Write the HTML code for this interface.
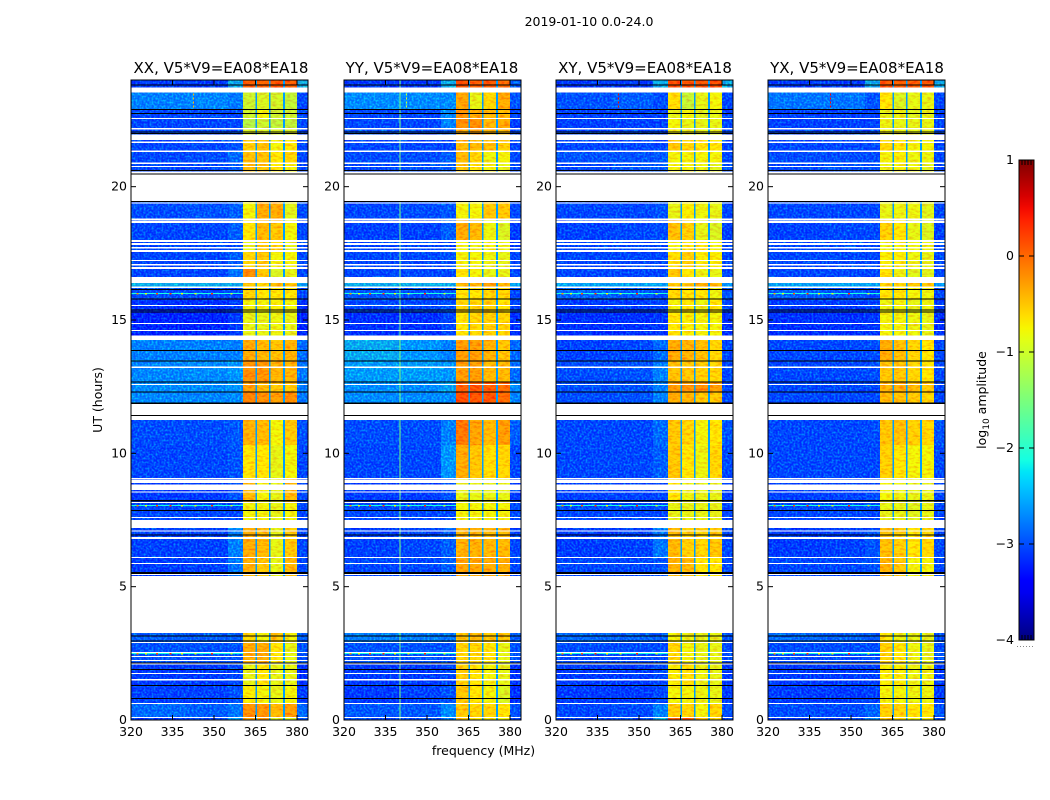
<!DOCTYPE html>
<html lang="en">
<head>
<meta charset="utf-8">
<title>2019-01-10 0.0-24.0</title>
<style>
  html, body { margin: 0; padding: 0; background: #fff; }
  svg { display: block; }
  text { font-family: "DejaVu Sans", "Liberation Sans", sans-serif; font-size: 12.5px; fill: #000; }
  .ttl { font-size: 15px; }
</style>
</head>
<body>
<svg id="chart" xmlns="http://www.w3.org/2000/svg" width="1050" height="800" viewBox="0 0 1050 800">
  <defs>
    <filter id="speckle" filterUnits="userSpaceOnUse" x="0" y="0" width="1050" height="800" color-interpolation-filters="sRGB">
      <feTurbulence type="fractalNoise" baseFrequency="0.5" numOctaves="1" seed="3" result="n"/>
      <feColorMatrix in="n" type="matrix" values="0 0 0 0 0  2.2 0 0 0 -0.85  0 0 0 0 1  0 0 0 0 0.45" result="c"/>
      <feComposite in="c" in2="SourceAlpha" operator="in"/>
    </filter>
    <filter id="hot-speckle" filterUnits="userSpaceOnUse" x="0" y="0" width="1050" height="800" color-interpolation-filters="sRGB">
      <feTurbulence type="fractalNoise" baseFrequency="0.22 0.45" numOctaves="2" seed="7" result="n"/>
      <feColorMatrix in="n" type="matrix" values="0 0 0 0 1  2.4 0 0 0 -0.4  0 0 0 0 0  0 0 0 0 0.25" result="c"/>
      <feComposite in="c" in2="SourceAlpha" operator="in"/>
    </filter>
    <linearGradient id="jet-gradient" x1="0" y1="1" x2="0" y2="0"></linearGradient>
  </defs>
  <rect x="0" y="0" width="1050" height="800" fill="#fff"/>
  <text x="589" y="26" text-anchor="middle">2019-01-10 0.0-24.0</text>
  <text x="483.5" y="755" text-anchor="middle">frequency (MHz)</text>
  <text transform="translate(102,400) rotate(-90)" text-anchor="middle">UT (hours)</text>
  <text transform="translate(986,400) rotate(-90)" text-anchor="middle">log<tspan dy="3" font-size="9">10</tspan><tspan dy="-3"> amplitude</tspan></text>
</svg>
<script>
// ---- chart data (log10 amplitude) ----
const panelTitles = ["XX, V5*V9=EA08*EA18", "YY, V5*V9=EA08*EA18", "XY, V5*V9=EA08*EA18", "YX, V5*V9=EA08*EA18"];
const freqTicks = [320, 335, 350, 365, 380];
const utTicks = [0, 5, 10, 15, 20];
const cbarTicks = [1, 0, -1, -2, -3, -4];
const cbarTickLabels = ["1", "0", "\u22121", "\u22122", "\u22123", "\u22124"];
const freqEdges = [320, 340, 355, 360.5, 365, 370, 375, 380, 384];
const gapFreqs = [365.2, 370.2, 375.3];
const gapLevel = -2.6;
const rfiFreq = 340;
const rfiLevels = [null, -1.5, null, null];
const rowLo = [0, .11, .64, 1.28, 2.1, 2.93, 5.4, 6.11, 7.5, 8.14, 9.08, 10.31, 11.87, 12.3, 12.68, 13.5, 14.41, 15.3, 15.79, 16.25, 16.62, 16.91, 17.55, 18, 18.79, 20.48, 20.89, 21.34, 21.96, 22.16, 22.58, 22.89, 23.71];
const rowHi = [.11, .64, 1.28, 2.1, 2.93, 3.26, 6.11, 7.2, 8.14, 9.08, 10.31, 11.25, 12.3, 12.68, 13.5, 14.25, 15.3, 15.79, 16.25, 16.38, 16.91, 17.55, 18, 18.79, 19.42, 20.89, 21.34, 21.75, 22.16, 22.58, 22.89, 23.54, 24];
const levelsXX = [
 [-3.2,-3,-2.3,-.2,-.2,-1,-1,-3],[-2.7,-2.8,-2.6,-.1,-.15,-.4,-.2,-2.7],[-3.05,-3.05,-2.9,-.75,-.8,-.9,-.8,-3.1],[-3.1,-3.1,-3,-.9,-.7,-.9,-.9,-3.2],
 [-2.9,-2.9,-2.9,-.3,-.3,-.7,-.9,-2.9],[-2.8,-2.8,-2.8,-.6,-.8,-.5,-.8,-2.8],[-3.1,-3.05,-2.6,-.35,-.5,-.9,-.4,-3],[-3.05,-3.05,-2.5,-.3,-.4,-.9,-.5,-3],
 [-3,-3,-3,-.8,-.8,-.9,-.8,-3],[-3.1,-3.1,-2.9,-.4,-.8,-.9,-.4,-3],[-3,-3,-2.9,-.7,-.7,-.9,-.8,-3],[-2.95,-2.95,-2.85,-.35,-.4,-.8,-.5,-2.9],
 [-2.45,-2.45,-2.4,0,-.1,-.2,-.1,-2.6],[-2.4,-2.4,-2.3,-.2,-.4,-.5,-.5,-2.5],[-2.45,-2.4,-2.3,-.1,-.15,-.35,-.35,-2.6],[-2.5,-2.5,-2.5,-.3,-.4,-.45,-.35,-2.7],
 [-3.3,-3.3,-3.1,-.9,-.9,-.85,-.9,-3.3],[-3.2,-3.2,-3.1,-.8,-.8,-.75,-.8,-3.2],[-2.95,-3,-3,-.6,-.7,-.7,-.7,-3],[-2.1,-2.1,-2.1,-.5,-.6,-.4,-.5,-2.2],
 [-3,-3,-2.6,-.1,-.5,-1,-.9,-3],[-3,-3,-2.8,-.6,-.5,-.8,-.8,-3],[-3,-3,-3,-.9,-.5,-.6,-.9,-3],[-3,-3,-2.8,-.7,-.4,-.5,-.8,-3],
 [-2.95,-2.9,-2.8,-.8,-.3,-.3,-.95,-2.95],[-3,-3,-2.8,-.4,-.5,-.7,-.8,-3],[-3,-2.95,-2.7,-.45,-.45,-.7,-.6,-3],[-3,-3,-2.9,-.55,-.45,-.8,-.7,-3],
 [-3,-3,-3,-1,-1,-1,-1,-3],[-3,-3,-3,-1.3,-1.1,-1.2,-1.2,-3],[-3,-3,-3,-1.1,-.8,-1.1,-1.1,-3],[-2.5,-2.45,-2.55,-1.1,-1,-1.05,-1.2,-3],[-3.1,-3.1,-2.1,.25,.2,.3,.25,-2]
];
const levelsYY = [
 [-3,-3,-2.5,-.5,-.7,-.8,-.8,-3],[-2.85,-2.85,-2.4,-.5,-.6,-.6,-.7,-2.9],[-3.1,-3.05,-2.9,-.5,-.7,-.8,-1,-3.2],[-3.1,-3.1,-3,-.55,-.7,-.8,-.9,-3.2],
 [-2.9,-2.9,-2.9,-.6,-.6,-.7,-.9,-2.9],[-2.5,-2.5,-2.6,-.5,-.4,-.5,-.5,-2.8],[-3,-3,-2.8,-.25,-.25,-.3,-.3,-3],[-3.05,-3,-2.8,-.35,-.35,-.4,-.4,-3],
 [-3,-3,-3,-.8,-.8,-.8,-.8,-3],[-3.1,-3.1,-2.9,-.9,-.9,-.9,-.9,-3.1],[-3,-3,-2.3,-.3,-.5,-.65,-.6,-3],[-2.95,-2.95,-2.5,.05,-.25,-.4,-.2,-2.8],
 [-2.4,-2.4,-2.4,.35,.3,.3,.15,-2.5],[-2.4,-2.4,-2.2,.25,.3,.25,.15,-2.4],[-2.25,-2.25,-2.3,-.2,-.2,-.4,-.4,-2.7],[-2.15,-2.3,-2.5,-.2,-.2,-.35,-.5,-2.7],
 [-3.2,-3.2,-3,-.7,-.6,-.55,-.6,-3.2],[-3,-3,-2.9,-.6,-.6,-.55,-.7,-3],[-2.85,-2.95,-2.9,-.7,-.7,-.6,-.6,-3],[-2.1,-2.1,-2.1,-.4,-.4,-.2,-.4,-2.2],
 [-3,-3,-3,-.7,-.8,-.9,-.9,-3],[-3,-3,-2.9,-.8,-.8,-.85,-.9,-3],[-3,-3,-3,-.8,-.85,-.8,-.85,-3.1],[-3.05,-3.05,-2.8,-.3,-.4,-.85,-1,-3.1],
 [-3,-2.95,-2.85,-.8,-.8,-.5,-.5,-3],[-3,-2.9,-2.8,-.5,-.7,-.8,-.9,-3],[-2.95,-2.95,-2.8,-.4,-.6,-.85,-.8,-3],[-3,-3,-3,-.4,-.4,-.45,-.55,-3],
 [-2.9,-3,-2.8,-.3,-.2,-.4,-.4,-3],[-3,-3,-2.5,-.1,-.1,-.4,-.3,-3.1],[-3,-3,-2.4,-.1,-.3,-.4,-.4,-3],[-2.4,-2.4,-2.4,-.25,-.9,-.6,-.3,-2.9],[-3.1,-3.1,-2.1,.35,.25,.3,.15,-2.8]
];
const levelsXY = [
 [-3.1,-3,-2.1,.3,.2,-.4,-.6,-3],[-3,-2.95,-2.5,-.55,-.6,-.8,-.6,-2.95],[-3.1,-3.1,-3,-.8,-.8,-.85,-.9,-3.1],[-3.1,-3.1,-3,-.75,-.65,-.85,-.9,-3.1],
 [-2.95,-2.95,-2.95,-.6,-.8,-.9,-.9,-2.95],[-2.7,-2.75,-2.8,-.8,-.85,-.9,-.9,-2.9],[-3,-3,-2.9,-.35,-.4,-.7,-.7,-3],[-3.1,-3.05,-2.6,-.4,-.55,-.6,-.5,-3],
 [-3,-3,-3,-.9,-.9,-.9,-.9,-3],[-3.05,-3.05,-3,-.7,-.85,-.9,-.9,-3.05],[-3,-3,-2.8,-.5,-.7,-.85,-.6,-3],[-3,-3,-2.7,-.5,-.6,-.8,-.7,-2.9],
 [-2.95,-2.9,-2.5,-.3,-.35,-.5,-.5,-3],[-2.95,-2.9,-2.5,-.2,-.15,-.1,-.2,-3],[-2.95,-2.9,-2.5,-.45,-.5,-.55,-.6,-3],[-3.05,-3,-2.7,-.3,-.35,-.45,-.6,-3],
 [-3.2,-3.2,-3.15,-.7,-.75,-.8,-.8,-3.2],[-3.1,-3.1,-3.05,-.8,-.7,-.85,-.7,-3],[-2.75,-2.85,-2.95,-.6,-.7,-.7,-.85,-2.9],[-2.2,-2.2,-2.2,-.5,-.5,-.3,-.4,-2.3],
 [-3,-3,-3,-.5,-.7,-.85,-.9,-3],[-3,-3,-3,-.65,-.55,-.75,-.75,-3],[-3,-3,-3,-.8,-.7,-.7,-.8,-3],[-3.05,-3,-2.95,-.45,-.55,-.9,-1,-3.05],
 [-3,-3,-2.9,-.9,-.75,-.85,-.9,-3],[-3,-2.85,-2.8,-.8,-.8,-.85,-.95,-2.95],[-2.9,-2.9,-2.85,-.8,-.8,-.8,-.8,-3],[-3,-3,-3,-.5,-.6,-.7,-.7,-3],
 [-3,-3,-3,-.8,-.85,-.9,-.9,-3],[-3.05,-3.05,-3.05,-.8,-.9,-.9,-.9,-3],[-3.05,-3.05,-3.05,-.9,-.8,-.95,-.9,-3.05],[-2.9,-2.8,-2.95,-.65,-1.15,-.9,-.8,-3],[-3.1,-3.1,-2.1,.35,.3,.3,.35,-2.1]
];
const levelsYX = [
 [-3.1,-3.05,-2.6,-.5,-.6,-.8,-.8,-3],[-2.95,-2.95,-2.75,-.55,-.6,-.7,-.7,-2.9],[-3.1,-3.1,-3.05,-.8,-.8,-.85,-.85,-3.1],[-3.1,-3.1,-3.05,-.75,-.75,-.85,-.85,-3.1],
 [-2.95,-2.95,-2.95,-.55,-.7,-.85,-.9,-2.95],[-2.7,-2.75,-2.85,-.7,-.85,-.9,-.9,-2.9],[-3,-3,-2.9,-.35,-.5,-.8,-.8,-3],[-3.1,-3.05,-2.9,-.45,-.55,-.7,-.6,-3],
 [-3,-3,-3,-.9,-.9,-.95,-.9,-3],[-3.05,-3.05,-3,-.8,-.85,-.9,-.9,-3],[-3,-3,-3,-.55,-.7,-.8,-.8,-3],[-3,-3,-2.95,-.5,-.45,-.55,-.6,-2.9],
 [-3,-3,-3,-.4,-.45,-.5,-.6,-3],[-3,-3,-3,-.35,-.3,-.4,-.5,-3],[-3,-3,-2.95,-.5,-.5,-.6,-.7,-3],[-3,-3,-2.95,-.3,-.45,-.6,-.7,-3],
 [-3.2,-3.2,-3.15,-.8,-.8,-.85,-.9,-3.2],[-3.1,-3.1,-3.05,-.85,-.8,-.9,-.85,-3.1],[-2.8,-2.9,-3,-.7,-.7,-.8,-.85,-3],[-2.2,-2.2,-2.2,-.6,-.6,-.5,-.5,-2.3],
 [-3,-3,-3,-.7,-.85,-.95,-.95,-3],[-3,-3,-3,-.75,-.75,-.85,-.9,-3],[-3,-3,-3,-.85,-.8,-.85,-.85,-3],[-3.05,-3,-3,-.55,-.7,-.9,-1,-3.05],
 [-3,-3,-3,-.9,-.85,-.85,-.95,-3],[-3,-2.9,-2.9,-.85,-.8,-.85,-.95,-3],[-2.95,-2.95,-2.95,-.8,-.75,-.85,-.85,-3],[-3,-3,-3,-.6,-.7,-.8,-.8,-3],
 [-3,-3,-3,-.85,-.85,-.9,-.9,-3],[-3.05,-3.05,-3.05,-.85,-.9,-.9,-.9,-3],[-3.05,-3.05,-3.05,-.9,-.85,-.95,-.9,-3.05],[-2.6,-2.6,-2.9,-.7,-1,-.9,-.9,-3],[-3.1,-3.1,-2.1,.3,.25,.25,.3,-2.1]
];
const flagLo = [.08,.6,1.49,1.72,2.09,2.21,2.36,2.51,2.89,5.44,5.85,6.08,6.79,7.09,7.58,8.14,8.53,8.63,8.89,9.02,12.56,13.2,14.59,14.85,15.53,16.2,16.91,17.05,17.21,17.55,17.69,17.81,17.93,18.64,18.75,19.36,20.49,20.75,20.85,21.3,21.64,22.14,22.54];
const flagHi = [.11,.64,1.54,1.76,2.16,2.25,2.4,2.55,2.93,5.48,5.89,6.11,6.86,7.11,7.61,8.18,8.57,8.83,9,9.08,12.6,13.25,14.63,14.89,15.56,16.26,16.99,17.1,17.25,17.63,17.74,17.88,18,18.73,18.81,19.41,20.57,20.77,20.91,21.35,21.69,22.2,22.58];
const blackUT = [.8,1.3,1.9,2.14,2.97,3.15,5.53,5.5,6.93,7.86,8.21,8.24,11.41,11.89,11.86,12.3,12.68,13.47,13.86,15.3,15.375,15.78,16.14,19.45,20.48,20.6,21.99,22.05,22.74,22.89,23.81];
const spikeUT = [16.0, 8.05, 2.5];
const spikeFreq = [322, 325, 329, 334, 338, 343, 349, 356];
const spikeLevel = [-.2, -.9, .1, .3, -.8, -.9, .3, -1];
const lineLevel = -2.1;
const dashFreq = 342.4;
const dashUT = [23.0, 23.15, 23.3, 23.45];
const dashLevels = [-.4, -1, .5, .5];

// ---- layout ----
const panelLevels = [levelsXX, levelsYY, levelsXY, levelsYX];
const panelLeft = [131, 344, 556, 768];
const titleShift = [1.5, -.5, .5, .5];
const panelW = 177, plotTop = 80, plotBottom = 720;
const pxPerMHz = 2.767;
const svg = document.getElementById('chart');
const NS = 'http://www.w3.org/2000/svg';

function xScale(panel, f) { return panelLeft[panel] + (f - 320) * pxPerMHz; }
function yScale(ut) { return plotBottom - (plotBottom - plotTop) * ut / 24; }
function lerp(t, xs, ys) {
  for (let i = 1; i < xs.length; i++) {
    if (t <= xs[i]) return ys[i - 1] + (ys[i] - ys[i - 1]) * (t - xs[i - 1]) / (xs[i] - xs[i - 1]);
  }
  return ys[ys.length - 1];
}
function jet(t) {
  t = Math.max(0, Math.min(1, t));
  const r = lerp(t, [0, .35, .66, .89, 1], [0, 0, 1, 1, .5]);
  const g = lerp(t, [0, .125, .375, .64, .91, 1], [0, 0, 1, 1, 0, 0]);
  const b = lerp(t, [0, .11, .34, .65, 1], [.5, 1, 1, 0, 0]);
  return 'rgb(' + Math.round(r * 255) + ',' + Math.round(g * 255) + ',' + Math.round(b * 255) + ')';
}
function levelColor(v) { return jet((v + 4) / 5); }
function make(tag, parent) { const el = document.createElementNS(NS, tag); parent.appendChild(el); return el; }
function box(el, x, y, w, h, fill) {
  el.setAttribute('x', x); el.setAttribute('y', y); el.setAttribute('width', w); el.setAttribute('height', h);
  el.setAttribute('fill', fill); el.setAttribute('shape-rendering', 'crispEdges');
}
function line(el, x1, y1, x2, y2) {
  el.setAttribute('x1', x1); el.setAttribute('y1', y1); el.setAttribute('x2', x2); el.setAttribute('y2', y2);
  el.setAttribute('stroke', '#000'); el.setAttribute('stroke-width', 1);
}

panelTitles.forEach(function (title, p) {
  const g = make('g', svg);
  
  
  const cells = make('g', g);
  
  
  const noise = make('g', g);
  noise.setAttribute('filter', 'url(#speckle)');
  
  
  const hotNoise = make('g', g);
  hotNoise.setAttribute('filter', 'url(#hot-speckle)');
  
  

  rowLo.forEach(function (lo, r) {
    const yTop = yScale(rowHi[r]), h = yScale(lo) - yTop;
    panelLevels[p][r].forEach(function (v, c) {
      const x0 = xScale(p, freqEdges[c]);
      const cell = make('rect', cells);
      
      
      box(cell, x0, yTop, xScale(p, freqEdges[c + 1]) - x0, h, levelColor(v));
      const speck = make('rect', (c < 3 || c === 7) ? noise : hotNoise);
      
      
      box(speck, x0, yTop, xScale(p, freqEdges[c + 1]) - x0, h, '#000');
    });
    gapFreqs.forEach(function (f) {
      const gap = make('rect', g);
      
      
      box(gap, xScale(p, f) - .8, yTop, 1.6, h, levelColor(gapLevel));
    });
    if (rfiLevels[p] !== null) {
      const rfi = make('rect', g);
      
      
      box(rfi, xScale(p, rfiFreq), yTop, 1, h, levelColor(rfiLevels[p]));
    }
  });

  spikeUT.forEach(function (ut) {
    const row = make('rect', g);
    
    
    box(row, xScale(p, 320), yScale(ut) - .5, xScale(p, 360.5) - xScale(p, 320), 1, levelColor(lineLevel));
    spikeFreq.forEach(function (f, i) {
      const spike = make('rect', g);
      
      
      box(spike, xScale(p, f), yScale(ut) - .5, 2, 1.5, levelColor(spikeLevel[i]));
    });
  });
  dashUT.forEach(function (ut) {
    const dash = make('rect', g);
    
    
    box(dash, xScale(p, dashFreq), yScale(ut) - 1, 1, 2, levelColor(dashLevels[p]));
  });

  flagLo.forEach(function (lo, i) {
    const flag = make('rect', g);
    
    
    const top = yScale(flagHi[i]);
    box(flag, panelLeft[p], top, panelW, Math.max(1, yScale(lo) - top), '#fff');
  });
  blackUT.forEach(function (ut) {
    const bar = make('rect', g);
    
    
    box(bar, panelLeft[p], yScale(ut) - .5, panelW, 1, '#000');
  });

  const frame = make('rect', g);
  
  
  frame.setAttribute('x', panelLeft[p]);
  frame.setAttribute('y', plotTop);
  frame.setAttribute('width', panelW);
  frame.setAttribute('height', plotBottom - plotTop);
  frame.setAttribute('fill', 'none');
  frame.setAttribute('stroke', '#000');
  frame.setAttribute('stroke-width', 1);

  const ttl = make('text', g);
  
  
  ttl.setAttribute('class', 'ttl');
  ttl.setAttribute('x', panelLeft[p] + panelW / 2 + titleShift[p]);
  ttl.setAttribute('y', 73);
  ttl.setAttribute('text-anchor', 'middle');
  ttl.textContent = title;

  freqTicks.forEach(function (f) {
    const x = xScale(p, f);
    const t1 = make('line', g);
    
    
    line(t1, x, plotBottom, x, plotBottom - 5);
    const t2 = make('line', g);
    
    
    line(t2, x, plotTop, x, plotTop + 5);
    const lab = make('text', g);
    
    
    lab.setAttribute('x', x);
    lab.setAttribute('y', 736);
    lab.setAttribute('text-anchor', 'middle');
    lab.textContent = f;
  });
  utTicks.forEach(function (ut) {
    const y = yScale(ut);
    const t1 = make('line', g);
    
    
    line(t1, panelLeft[p], y, panelLeft[p] + 5, y);
    const t2 = make('line', g);
    
    
    line(t2, panelLeft[p] + panelW, y, panelLeft[p] + panelW - 5, y);
    const lab = make('text', g);
    
    
    lab.setAttribute('x', panelLeft[p] - 4);
    lab.setAttribute('y', y + 4);
    lab.setAttribute('text-anchor', 'end');
    lab.textContent = ut;
  });
});

// ---- colorbar ----
const cbarLeft = 1019, cbarWidth = 15, cbarTop = 160, cbarBottom = 640;
function cbarY(v) { return cbarBottom - (v + 4) / 5 * (cbarBottom - cbarTop); }
const grad = document.getElementById('jet-gradient');
for (let i = 0; i <= 40; i++) {
  const stop = make('stop', grad);
  stop.setAttribute('offset', i / 40);
  stop.setAttribute('stop-color', jet(i / 40));
}
const cbar = make('g', svg);


const ramp = make('rect', cbar);


ramp.setAttribute('x', cbarLeft);
ramp.setAttribute('y', cbarTop);
ramp.setAttribute('width', cbarWidth);
ramp.setAttribute('height', cbarBottom - cbarTop);
ramp.setAttribute('fill', 'url(#jet-gradient)');
ramp.setAttribute('stroke', '#000');
ramp.setAttribute('stroke-width', 1);
cbarTicks.forEach(function (v, i) {
  const y = cbarY(v);
  const t1 = make('line', cbar);
  
  
  line(t1, cbarLeft, y, cbarLeft + 5, y);
  const t2 = make('line', cbar);
  
  
  line(t2, cbarLeft + cbarWidth, y, cbarLeft + cbarWidth - 5, y);
  const lab = make('text', cbar);
  
  
  lab.setAttribute('x', cbarLeft - 5);
  lab.setAttribute('y', y + 4);
  lab.setAttribute('text-anchor', 'end');
  lab.textContent = cbarTickLabels[i];
});
for (let i = 1; i <= 4; i++) {
  const xm = cbarLeft + i * 3;
  const m1 = make('line', cbar);
  
  
  line(m1, xm, cbarTop, xm, cbarTop + 5);
  const m2 = make('line', cbar);
  
  
  line(m2, xm, cbarBottom, xm, cbarBottom - 5);
}
const dots = make('line', cbar);


dots.setAttribute('x1', 1017);
dots.setAttribute('y1', 646.5);
dots.setAttribute('x2', 1035);
dots.setAttribute('y2', 646.5);
dots.setAttribute('stroke', '#888');
dots.setAttribute('stroke-width', 1);
dots.setAttribute('stroke-dasharray', '1 2');
</script>
</body>
</html>
